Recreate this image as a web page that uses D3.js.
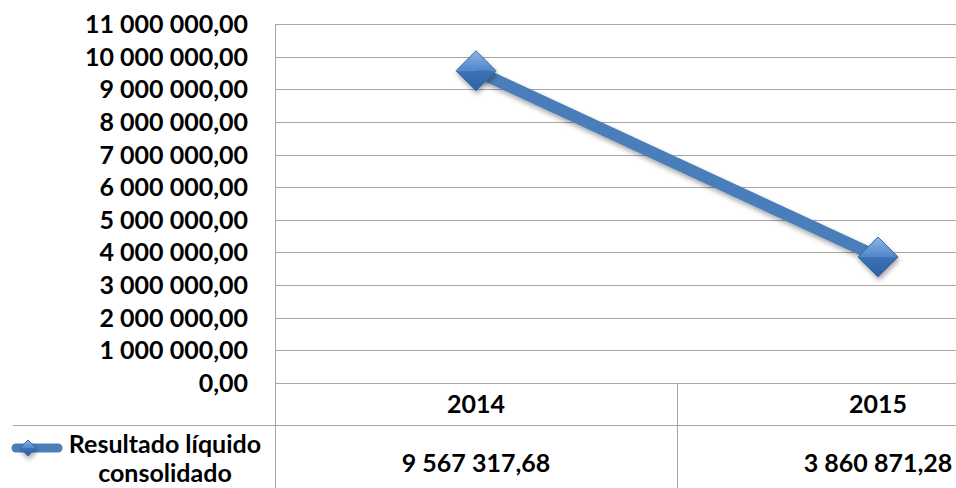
<!DOCTYPE html>
<html>
<head>
<meta charset="utf-8">
<script src="https://cdn.jsdelivr.net/npm/d3@7"></script>
<style>
  body { margin: 0; background: #fff; }
  svg { display: block; font-family: Lato, "Open Sans", sans-serif; font-weight: bold; }
</style>
</head>
<body>
<div id="chart"></div>
<script>
// data
var categories = ["2014", "2015"];
var values = [9567317.68, 3860871.28];
var seriesName = ["Resultado líquido", "consolidado"];
var yTicks = [0, 1e6, 2e6, 3e6, 4e6, 5e6, 6e6, 7e6, 8e6, 9e6, 10e6, 11e6];

var width = 956, height = 488;
var plot = {left: 275, right: 1079, top: 24, bottom: 383};
var rowHead = 425;   // line between category row and value row
var fs = 25;

var pt = d3.formatLocale({decimal: ",", thousands: "\u00a0", grouping: [3], currency: ["", ""]});
var fmt = pt.format(",.2f");

var svg = d3.select("#chart").append("svg")
    .attr("width", width)
    .attr("height", height);

var defs = svg.append("defs");
var g1 = defs.append("linearGradient").attr("id", "dmTop")
    .attr("x1", 0).attr("y1", 0).attr("x2", 0).attr("y2", 1);
g1.append("stop").attr("offset", "0%").attr("stop-color", "#8fb5e6");
g1.append("stop").attr("offset", "100%").attr("stop-color", "#4f86c9");
var g2 = defs.append("linearGradient").attr("id", "dmBot")
    .attr("x1", 0).attr("y1", 0).attr("x2", 0).attr("y2", 1);
g2.append("stop").attr("offset", "0%").attr("stop-color", "#3d72b8");
g2.append("stop").attr("offset", "100%").attr("stop-color", "#2f5f9f");
var sh = defs.append("filter").attr("id", "shadow")
    .attr("x", "-50%").attr("y", "-50%").attr("width", "200%").attr("height", "200%");
sh.append("feDropShadow").attr("dx", 1).attr("dy", 3).attr("stdDeviation", 2.5)
    .attr("flood-color", "#000").attr("flood-opacity", 0.35);

var x = d3.scaleBand().domain(categories).range([plot.left, plot.right]);
var y = d3.scaleLinear().domain([0, 11e6]).range([plot.bottom, plot.top]);

// gridlines
svg.append("g").selectAll("line")
    .data(yTicks)
    .enter().append("line")
    .attr("x1", plot.left).attr("x2", width)
    .attr("y1", function(d) { return Math.round(y(d)) + 0.5; })
    .attr("y2", function(d) { return Math.round(y(d)) + 0.5; })
    .attr("stroke", "#a6a6a6").attr("stroke-width", 1);

// y axis labels
svg.append("g").selectAll("text")
    .data(yTicks)
    .enter().append("text")
    .attr("x", 248)
    .attr("y", function(d) { return y(d) + 9; })
    .attr("text-anchor", "end")
    .attr("font-size", fs)
    .attr("fill", "#000")
    .text(function(d) { return fmt(d); });

// axis + data table lines
svg.append("line")
    .attr("x1", plot.left + 0.5).attr("x2", plot.left + 0.5)
    .attr("y1", plot.top).attr("y2", height)
    .attr("stroke", "#a6a6a6");
svg.append("line")
    .attr("x1", 13).attr("x2", width)
    .attr("y1", rowHead + 0.5).attr("y2", rowHead + 0.5)
    .attr("stroke", "#a6a6a6");
svg.append("g").selectAll("line")
    .data(categories.slice(1))
    .enter().append("line")
    .attr("x1", function(d) { return Math.round(x(d)) + 0.5; })
    .attr("x2", function(d) { return Math.round(x(d)) + 0.5; })
    .attr("y1", plot.bottom).attr("y2", height)
    .attr("stroke", "#a6a6a6");

// category row
svg.append("g").selectAll("text")
    .data(categories)
    .enter().append("text")
    .attr("x", function(d) { return x(d) + x.bandwidth() / 2; })
    .attr("y", 413)
    .attr("text-anchor", "middle")
    .attr("font-size", fs)
    .text(function(d) { return d; });

// value row
svg.append("g").selectAll("text")
    .data(values)
    .enter().append("text")
    .attr("x", function(d, i) { return x(categories[i]) + x.bandwidth() / 2; })
    .attr("y", 472)
    .attr("text-anchor", "middle")
    .attr("font-size", fs)
    .text(function(d) { return fmt(d); });

// series
var pts = values.map(function(v, i) { return [x(categories[i]) + x.bandwidth() / 2, y(v)]; });

svg.append("path")
    .datum(pts)
    .attr("d", d3.line())
    .attr("fill", "none")
    .attr("stroke", "#4a7ebb")
    .attr("stroke-width", 12)
    .attr("filter", "url(#shadow)");

function diamond(sel, cx, cy, r) {
  var m = sel.append("g").attr("transform", "translate(" + cx + "," + cy + ")")
      .attr("filter", "url(#shadow)");
  m.append("path").attr("d", "M" + (-r) + ",0L0," + (-r) + "L" + r + ",0Z").attr("fill", "url(#dmTop)");
  m.append("path").attr("d", "M" + (-r) + ",0L0," + r + "L" + r + ",0Z").attr("fill", "url(#dmBot)");
  m.append("path").attr("d", "M" + (-r) + ",0L0," + (-r) + "L" + r + ",0L0," + r + "Z")
      .attr("fill", "none").attr("stroke", "#3a6aa8").attr("stroke-width", 1);
}

pts.forEach(function(p) { diamond(svg, p[0], p[1], 20); });

// legend key in the data table
var key = svg.append("g");
key.append("line")
    .attr("x1", 16).attr("x2", 58)
    .attr("y1", 448).attr("y2", 448)
    .attr("stroke", "#4a7ebb").attr("stroke-width", 9)
    .attr("stroke-linecap", "round");
diamond(key, 28, 448, 8);

svg.append("g").selectAll("text")
    .data(seriesName)
    .enter().append("text")
    .attr("x", 165)
    .attr("y", function(d, i) { return 453 + i * 29; })
    .attr("text-anchor", "middle")
    .attr("font-size", fs)
    .text(function(d) { return d; });
</script>
</body>
</html>
